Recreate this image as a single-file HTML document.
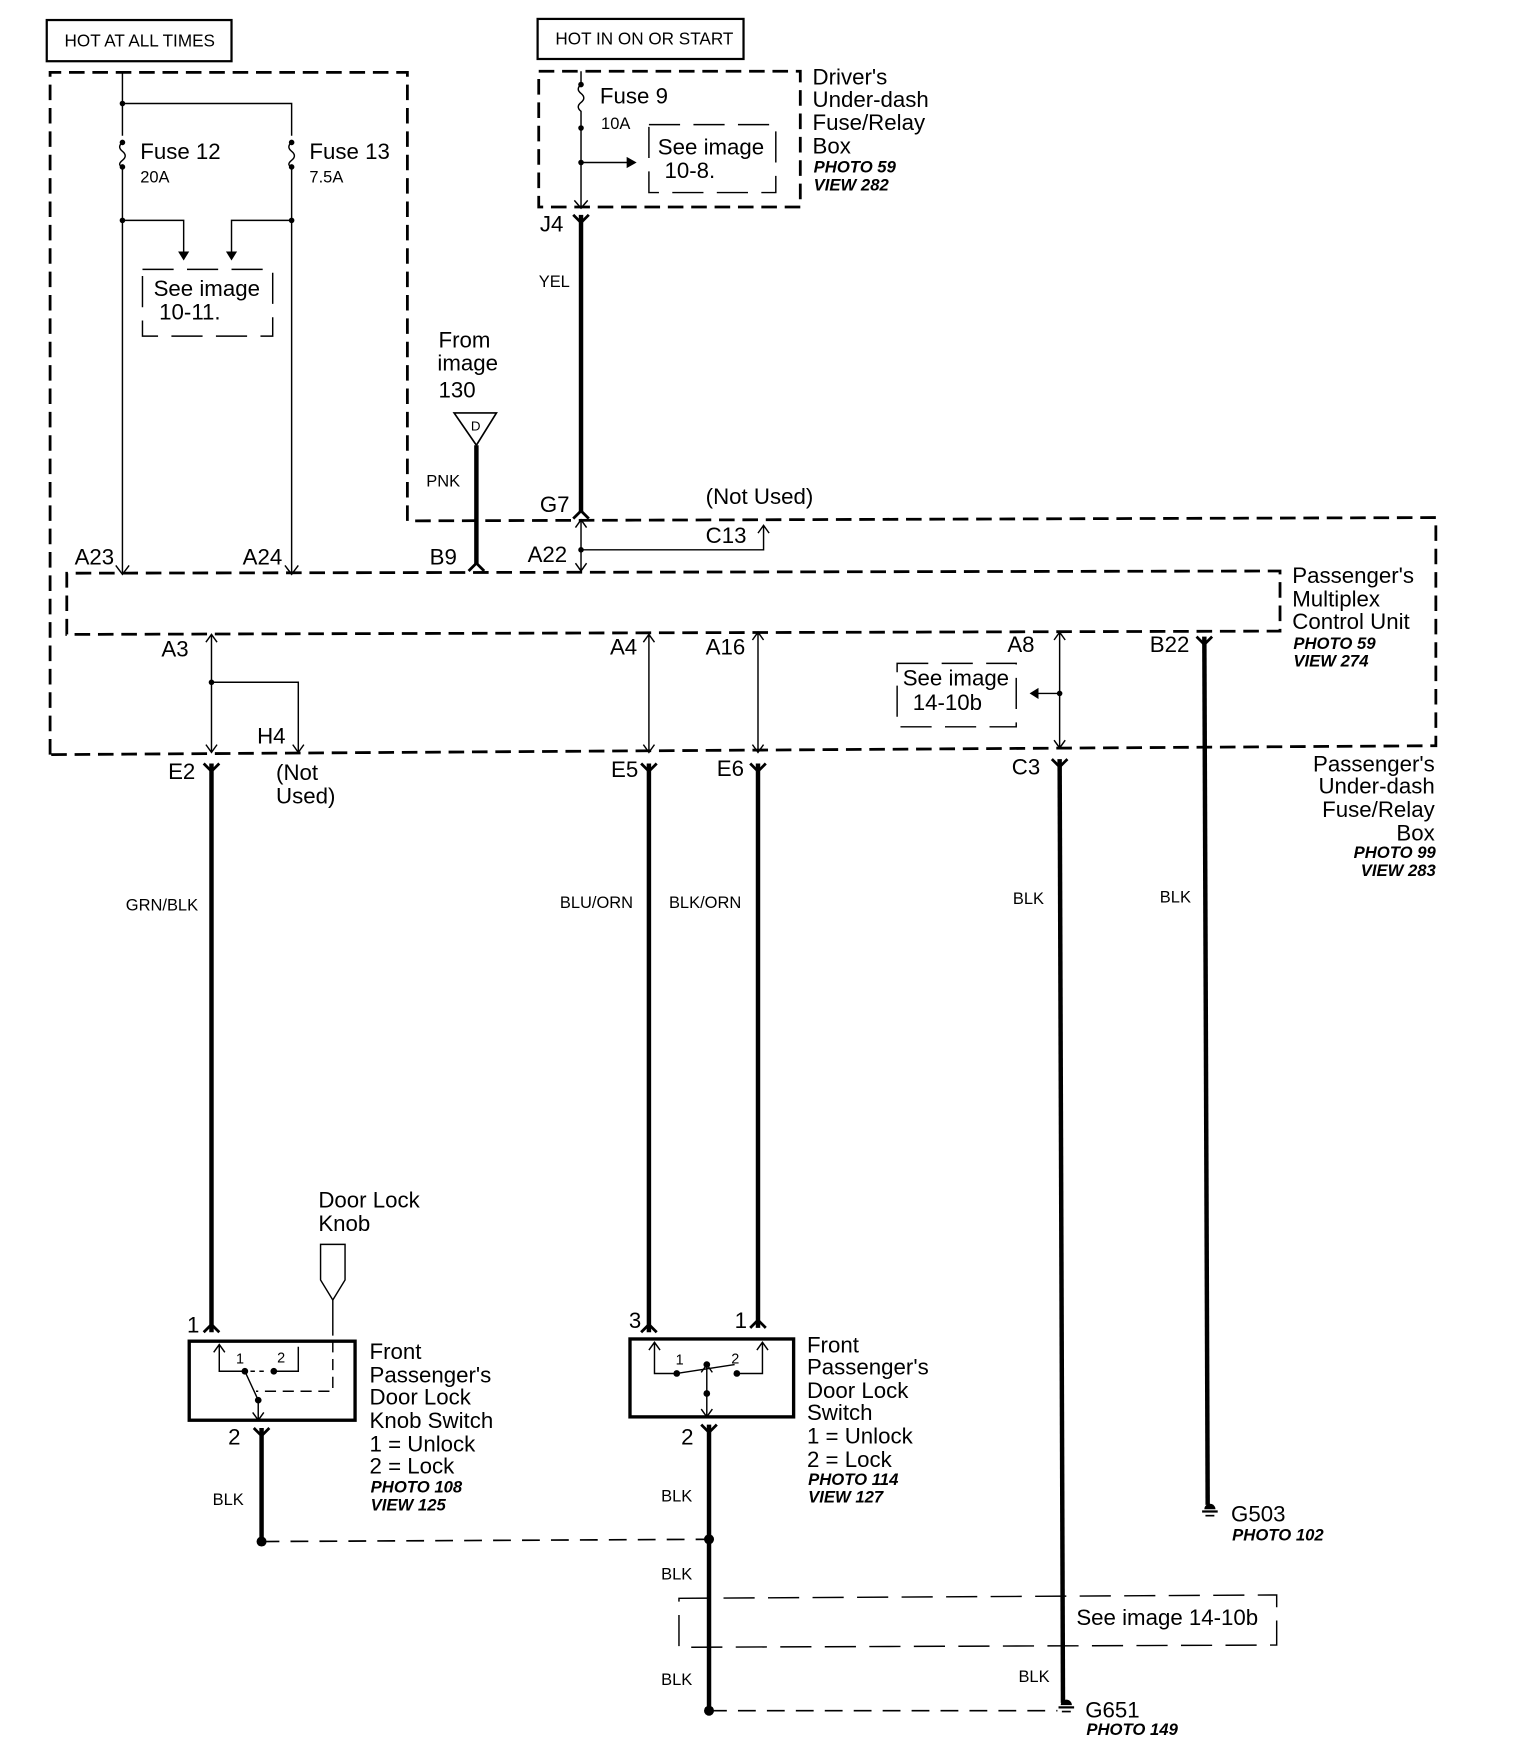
<!DOCTYPE html>
<html><head><meta charset="utf-8">
<style>
html,body{margin:0;padding:0;background:#fff;}
svg{display:block}
text{font-family:"Liberation Sans",sans-serif;fill:#000}
.l{font-size:20px}
.s{font-size:14.8px}
.i{font-size:15px;font-style:italic;font-weight:bold}
.b{font-size:20px;font-weight:bold}
</style></head><body>
<svg width="1520" height="1746" viewBox="0 0 1365.6 1568.7" preserveAspectRatio="none" xmlns="http://www.w3.org/2000/svg">
<g fill="none" stroke="#000">
<rect x="42" y="18" width="166" height="37" stroke-width="2"/>
<rect x="483" y="17" width="185" height="36" stroke-width="2"/>
<path d="M45 678 L45 65 L366 65 L366 468 L1290 465 L1290 670 Z" stroke-width="2.5" stroke-dasharray="14 7"/>
<path d="M60 570 L60 515 L1150 513 L1150 567 Z" stroke-width="2.5" stroke-dasharray="14 7"/>
<rect x="484" y="64" width="235" height="122" stroke-width="2.5" stroke-dasharray="14 7"/>
<path d="M128 242 L245 242 L245 302 L128 302 Z" stroke-width="1.3" stroke-dasharray="28 12"/>
<path d="M583 112 L697 112 L697 173 L583 173 Z" stroke-width="1.3" stroke-dasharray="28 12"/>
<path d="M806 596 L913 596 L913 653 L806 653 Z" stroke-width="1.3" stroke-dasharray="28 12"/>
<path d="M610 1436 L1147 1433 L1147 1478 L610 1480 Z" stroke-width="1.3" stroke-dasharray="28 12"/>

<g stroke-width="1.3">
<path d="M110 65 L110 122 M110 150 L110 515"/>
<path d="M110 93 L262 93 L262 122 M262 150 L262 515"/>
<path d="M110 128 q-5 4 0 8 q5 4 0 8 q-5 4 0 6"/>
<path d="M262 128 q-5 4 0 8 q5 4 0 8 q-5 4 0 6"/>
<path d="M110 198 L165 198 L165 228 M262 198 L208 198 L208 228"/>
<path d="M104 508 L110 516 L116 508 M256 508 L262 516 L268 508"/>
<path d="M522 64 L522 76 q-5 4 0 8 q5 4 0 8 q-5 4 0 8 L522 186"/>
<path d="M522 146 L565 146"/>
<path d="M516 180 L522 187 L528 180"/>
<path d="M522 468 L522 512 M517 474 L522 467 L527 474 M517 506 L522 513 L527 506"/>
<path d="M522 494 L686 494 L686 472 M681 479 L686 472 L691 479"/>
<path d="M190 570 L190 676 M185 577 L190 570 L195 577 M185 669 L190 676 L195 669"/>
<path d="M190 613 L268 613 L268 676 M263 669 L268 676 L273 669"/>
<path d="M583 570 L583 676 M578 577 L583 570 L588 577 M578 669 L583 676 L588 669"/>
<path d="M681 568 L681 676 M676 575 L681 568 L686 575 M676 669 L681 676 L686 669"/>
<path d="M952 568 L952 672 M947 575 L952 568 L957 575 M947 665 L952 672 L957 665"/>
<path d="M930 623 L952 623"/>
<path d="M288 1118 L310 1118 L310 1150 L299 1168 L288 1150 Z"/>
<path d="M299 1168 L299 1200"/>
<path d="M299 1205 L299 1250 L230 1250" stroke-dasharray="10 6"/>
<path d="M197 1208 L197 1232 L220 1232 M192 1215 L197 1208 L202 1215"/>
<path d="M246 1232 L268 1232 L268 1210"/>
<path d="M220 1232 L232 1258 L232 1276 M227 1269 L232 1276 L237 1269"/>
<path d="M225 1232 L240 1232" stroke-dasharray="4 4"/>
<path d="M588 1206 L588 1234 L608 1234 M583 1213 L588 1206 L593 1213"/>
<path d="M685 1206 L685 1234 L662 1234 M680 1213 L685 1206 L690 1213"/>
<path d="M608 1234 L660 1226 M635 1226 L635 1273 M630 1266 L635 1273 L640 1266 M630 1233 L635 1226 L640 1233"/>
</g>
<rect x="170" y="1205" width="149" height="71" stroke-width="3"/>
<rect x="566" y="1203" width="147" height="70" stroke-width="3"/>

<g stroke-width="4">
<path d="M522 193 L522 460"/>
<path d="M428 400 L428 507"/>
<path d="M190 686 L190 1197"/>
<path d="M583 686 L583 1197"/>
<path d="M681 686 L681 1193"/>
<path d="M952 682 L955 1530"/>
<path d="M1082 572 L1085 1352"/>
<path d="M235 1283 L235 1385"/>
<path d="M637 1280 L637 1535"/>
</g>
<g stroke-width="2.5">
<path d="M515 193 L522 200 L529 193"/>
<path d="M515 466 L522 459 L529 466"/>
<path d="M421 513 L428 506 L435 513"/>
<path d="M183 686 L190 693 L197 686"/>
<path d="M576 686 L583 693 L590 686"/>
<path d="M674 686 L681 693 L688 686"/>
<path d="M945 682 L952 689 L959 682"/>
<path d="M1075 572 L1082 579 L1089 572"/>
<path d="M183 1197 L190 1190 L197 1197"/>
<path d="M576 1197 L583 1190 L590 1197"/>
<path d="M674 1193 L681 1186 L688 1193"/>
<path d="M228 1283 L235 1290 L242 1283"/>
<path d="M630 1280 L637 1287 L644 1280"/>
</g>
<path d="M408 371 L446 371 L428 400 Z" stroke-width="1.5"/>
<path d="M235 1385 L637 1383" stroke-width="1.5" stroke-dasharray="16 10"/>
<path d="M637 1537 L950 1537" stroke-width="1.5" stroke-dasharray="16 10"/>
</g>
<g fill="#000">
<path d="M160 226 L170 226 L165 234 Z"/>
<path d="M203 226 L213 226 L208 234 Z"/>
<path d="M563 141 L572 146 L563 151 Z"/>
<path d="M933 618 L925 623 L933 628 Z"/>
<circle cx="110" cy="93" r="2.5"/><circle cx="110" cy="128" r="2.5"/><circle cx="110" cy="150" r="2.5"/><circle cx="110" cy="198" r="2.5"/>
<circle cx="262" cy="128" r="2.5"/><circle cx="262" cy="150" r="2.5"/><circle cx="262" cy="198" r="2.5"/>
<circle cx="522" cy="76" r="2.5"/><circle cx="522" cy="115" r="2.5"/><circle cx="522" cy="146" r="2.5"/>
<circle cx="522" cy="494" r="2.5"/><circle cx="190" cy="613" r="2.5"/><circle cx="952" cy="623" r="2.5"/>
<circle cx="220" cy="1232" r="3"/><circle cx="246" cy="1232" r="3"/><circle cx="232" cy="1258" r="3"/>
<circle cx="608" cy="1234" r="3"/><circle cx="662" cy="1234" r="3"/><circle cx="635" cy="1226" r="3"/><circle cx="635" cy="1252" r="3"/>
<circle cx="235" cy="1385" r="4.5"/><circle cx="637" cy="1383" r="4.5"/><circle cx="637" cy="1537" r="4.5"/>
<path d="M1082 1356 a5 5 0 0 1 10 0 Z"/><rect x="1080" y="1357" width="14" height="2"/><rect x="1083" y="1361" width="8" height="1.5"/>
<path d="M953 1532 a5 5 0 0 1 10 0 Z"/><rect x="951" y="1533" width="14" height="2"/><rect x="954" y="1537" width="8" height="1.5"/>
</g>

<text x="58" y="42" style="font-size:15.4px">HOT AT ALL TIMES</text>
<text x="499" y="40" style="font-size:15.4px">HOT IN ON OR START</text>
<text x="126" y="143" class="l">Fuse 12</text><text x="126" y="164" class="s">20A</text>
<text x="278" y="143" class="l">Fuse 13</text><text x="278" y="164" class="s">7.5A</text>
<text x="138" y="266" class="l">See image</text><text x="143" y="287" class="l">10-11.</text>
<text x="539" y="93" class="l">Fuse 9</text><text x="540" y="116" class="s">10A</text>
<text x="591" y="139" class="l">See image</text><text x="597" y="160" class="l">10-8.</text>
<text x="730" y="76" class="l">Driver's</text><text x="730" y="96" class="l">Under-dash</text><text x="730" y="117" class="l">Fuse/Relay</text><text x="730" y="138" class="l">Box</text>
<text x="731" y="155" class="i">PHOTO 59</text><text x="731" y="171" class="i">VIEW 282</text>
<text x="485" y="208" class="l">J4</text>
<text x="484" y="258" class="s">YEL</text>
<text x="394" y="312" class="l">From</text><text x="393" y="333" class="l">image</text><text x="394" y="357" class="l">130</text>
<text x="423" y="387" style="font-size:12px">D</text>
<text x="383" y="437" class="s">PNK</text>
<text x="485" y="460" class="l">G7</text>
<text x="634" y="453" class="l">(Not Used)</text>
<text x="634" y="488" class="l">C13</text>
<text x="67" y="507" class="l">A23</text><text x="218" y="507" class="l">A24</text><text x="386" y="507" class="l">B9</text><text x="474" y="505" class="l">A22</text>
<text x="1161" y="524" class="l">Passenger's</text><text x="1161" y="545" class="l">Multiplex</text><text x="1161" y="565" class="l">Control Unit</text>
<text x="1162" y="583" class="i">PHOTO 59</text><text x="1162" y="599" class="i">VIEW 274</text>
<text x="145" y="590" class="l">A3</text><text x="548" y="588" class="l">A4</text><text x="634" y="588" class="l">A16</text><text x="905" y="586" class="l">A8</text><text x="1033" y="586" class="l">B22</text>
<text x="811" y="616" class="l">See image</text><text x="820" y="638" class="l">14-10b</text>
<text x="231" y="668" class="l">H4</text>
<text x="151" y="700" class="l">E2</text><text x="248" y="701" class="l">(Not</text><text x="248" y="722" class="l">Used)</text>
<text x="549" y="698" class="l">E5</text><text x="644" y="697" class="l">E6</text><text x="909" y="696" class="l">C3</text>
<text x="1289" y="693" class="l" text-anchor="end">Passenger's</text><text x="1289" y="713" class="l" text-anchor="end">Under-dash</text><text x="1289" y="734" class="l" text-anchor="end">Fuse/Relay</text><text x="1289" y="755" class="l" text-anchor="end">Box</text>
<text x="1290" y="771" class="i" text-anchor="end">PHOTO 99</text><text x="1290" y="787" class="i" text-anchor="end">VIEW 283</text>
<text x="113" y="818" class="s">GRN/BLK</text><text x="503" y="816" class="s">BLU/ORN</text><text x="601" y="816" class="s">BLK/ORN</text><text x="910" y="812" class="s">BLK</text><text x="1042" y="811" class="s">BLK</text>
<text x="286" y="1085" class="l">Door Lock</text><text x="286" y="1106" class="l">Knob</text>
<text x="168" y="1197" class="l">1</text><text x="565" y="1193" class="l">3</text><text x="660" y="1193" class="l">1</text>
<text x="212" y="1225" style="font-size:13px">1</text><text x="249" y="1224" style="font-size:13px">2</text>
<text x="607" y="1226" style="font-size:13px">1</text><text x="657" y="1225" style="font-size:13px">2</text>
<text x="332" y="1221" class="l">Front</text><text x="332" y="1242" class="l">Passenger's</text><text x="332" y="1262" class="l">Door Lock</text><text x="332" y="1283" class="l">Knob Switch</text><text x="332" y="1304" class="l">1 = Unlock</text><text x="332" y="1324" class="l">2 = Lock</text>
<text x="333" y="1341" class="i">PHOTO 108</text><text x="333" y="1357" class="i">VIEW 125</text>
<text x="725" y="1215" class="l">Front</text><text x="725" y="1235" class="l">Passenger's</text><text x="725" y="1256" class="l">Door Lock</text><text x="725" y="1276" class="l">Switch</text><text x="725" y="1297" class="l">1 = Unlock</text><text x="725" y="1318" class="l">2 = Lock</text>
<text x="726" y="1334" class="i">PHOTO 114</text><text x="726" y="1350" class="i">VIEW 127</text>
<text x="205" y="1298" class="l">2</text><text x="612" y="1298" class="l">2</text>
<text x="191" y="1352" class="s">BLK</text><text x="594" y="1349" class="s">BLK</text><text x="594" y="1419" class="s">BLK</text><text x="594" y="1514" class="s">BLK</text><text x="915" y="1511" class="s">BLK</text>
<text x="1106" y="1367" class="l">G503</text><text x="1107" y="1384" class="i">PHOTO 102</text>
<text x="967" y="1460" class="l">See image 14-10b</text>
<text x="975" y="1543" class="l">G651</text><text x="976" y="1559" class="i">PHOTO 149</text>
</svg>
</body></html>
